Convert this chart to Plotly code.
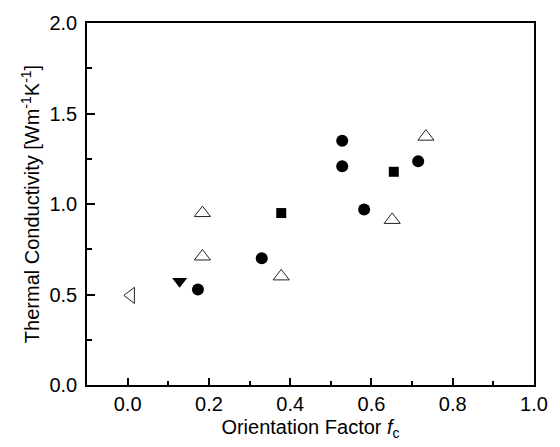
import plotly.graph_objects as go

# Data
circle_x = [0.173, 0.330, 0.528, 0.528, 0.582, 0.715]
circle_y = [0.527, 0.700, 1.349, 1.209, 0.969, 1.236]
square_x = [0.378, 0.655]
square_y = [0.950, 1.178]
tri_up_x = [0.184, 0.184, 0.378, 0.651, 0.734]
tri_up_y = [0.710, 0.950, 0.600, 0.912, 1.372]
tri_down_x = [0.128]
tri_down_y = [0.573]
tri_left_x = [0.008]
tri_left_y = [0.495]

fig = go.Figure()
fig.add_trace(go.Scatter(x=circle_x, y=circle_y, mode="markers",
                         marker=dict(symbol="circle", size=12, color="black")))
fig.add_trace(go.Scatter(x=square_x, y=square_y, mode="markers",
                         marker=dict(symbol="square", size=10, color="black")))
fig.add_trace(go.Scatter(x=tri_up_x, y=tri_up_y, mode="markers",
                         marker=dict(symbol="triangle-up-open", size=14, color="#222",
                                     line=dict(width=1))))
fig.add_trace(go.Scatter(x=tri_down_x, y=tri_down_y, mode="markers",
                         marker=dict(symbol="triangle-down", size=13, color="black")))
fig.add_trace(go.Scatter(x=tri_left_x, y=tri_left_y, mode="markers",
                         marker=dict(symbol="triangle-left-open", size=14, color="#222",
                                     line=dict(width=1))))

font = "Liberation Sans"
fig.update_layout(
    width=560, height=447,
    margin=dict(l=87, r=18, t=20, b=60),
    plot_bgcolor="white", paper_bgcolor="white",
    showlegend=False,
    font=dict(family=font, size=20, color="black"),
    xaxis=dict(
        range=[-0.1, 1.0], tick0=0, dtick=0.2, tickformat=".1f",
        ticks="inside", ticklen=7, tickwidth=1.5, tickcolor="black",
        minor=dict(ticks="inside", ticklen=4, dtick=0.1, tick0=0, tickcolor="black", tickwidth=1.5),
        showline=True, linecolor="black", linewidth=1.5, mirror=True,
        showgrid=False, zeroline=False,
        title=dict(text="Orientation Factor <i>f</i><sub>c</sub>",
                   font=dict(family=font, size=20), standoff=6),
        tickfont=dict(family=font, size=20),
    ),
    yaxis=dict(
        range=[0, 2.0], tick0=0, dtick=0.5, tickformat=".1f",
        ticks="inside", ticklen=8, tickwidth=1.5, tickcolor="black",
        minor=dict(ticks="inside", ticklen=5, dtick=0.25, tick0=0, tickcolor="black", tickwidth=1.5),
        showline=True, linecolor="black", linewidth=1.5, mirror=True,
        showgrid=False, zeroline=False,
        title=dict(text="Thermal Conductivity [Wm<sup>-1</sup>K<sup>-1</sup>]",
                   font=dict(family=font, size=20), standoff=4),
        tickfont=dict(family=font, size=20),
        ticklabelstandoff=4,
    ),
)

fig.write_html("out.html", config={"displayModeBar": False},
               post_script="document.body.style.margin='0';")
